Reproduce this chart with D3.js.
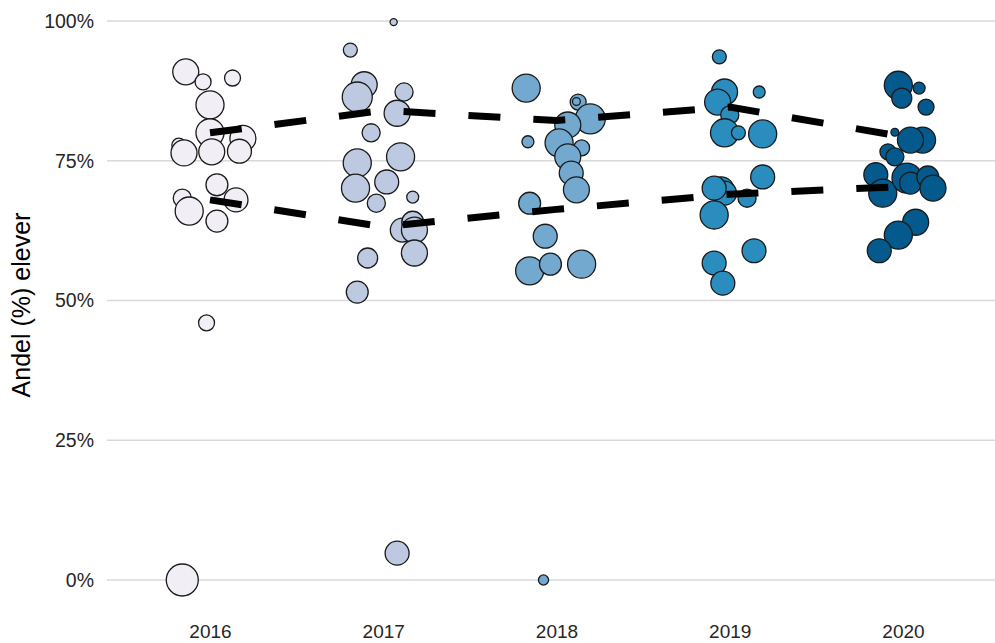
<!DOCTYPE html>
<html>
<head>
<meta charset="utf-8">
<script src="https://cdn.jsdelivr.net/npm/d3@7"></script>
<style>
  body { margin: 0; background: #fff; }
  text { font-family: "Liberation Sans", Arial, sans-serif; }
</style>
</head>
<body>
<script>
// years on the x axis
var years = ["2016", "2017", "2018", "2019", "2020"];
var fills = ["#f1eef6", "#bdc9e1", "#74a9cf", "#2b8cbe", "#045a8d"];
var yTicks = [0, 0.25, 0.5, 0.75, 1];

// share (%) per school, one array per year
var share2016 = [90.9, 89.1, 89.8, 85.0, 80.0, 80.0, 79.0, 76.7, 77.8, 76.4, 76.6, 70.7, 68.3, 68.0, 66.0, 64.2, 46.0, 0];
var share2017 = [94.8, 99.8, 88.6, 86.4, 87.3, 83.5, 80.0, 74.6, 75.7, 70.1, 71.2, 67.4, 68.5, 62.6, 64.0, 62.6, 58.5, 57.6, 51.5, 4.8];
var share2018 = [88.0, 85.5, 85.6, 82.5, 81.4, 78.4, 78.2, 77.3, 75.7, 72.8, 69.8, 67.4, 61.5, 55.3, 56.5, 56.5, 0];
var share2019 = [93.6, 87.3, 85.5, 87.3, 83.2, 80.0, 80.0, 79.8, 72.1, 69.8, 69.2, 68.3, 65.3, 70.1, 58.9, 56.7, 53.1];
var share2020 = [88.5, 88.0, 86.2, 84.6, 80.1, 78.7, 78.7, 76.6, 75.7, 72.5, 69.2, 71.9, 71.0, 72.1, 70.1, 64.0, 61.7, 58.9];

// number of pupils per school (point size)
var n2016 = [66, 25, 25, 77, 77, 10, 66, 56, 19, 66, 66, 47, 32, 56, 77, 47, 25, 100];
var n2017 = [19, 5, 66, 88, 32, 66, 32, 77, 77, 77, 56, 32, 14, 56, 47, 66, 66, 39, 47, 56];
var n2018 = [77, 25, 6, 88, 66, 14, 77, 25, 66, 56, 66, 47, 56, 77, 47, 77, 10];
var n2019 = [19, 66, 66, 14, 32, 77, 19, 77, 56, 66, 56, 32, 77, 56, 56, 56, 56];
var n2020 = [77, 14, 39, 25, 6, 66, 66, 25, 32, 56, 77, 88, 47, 47, 66, 66, 77, 56];

// horizontal jitter (fraction of the step between years)
var jit2016 = [-0.14, -0.04, 0.13, 0.00, 0.00, 0.18, 0.19, 0.17, -0.18, -0.15, 0.01, 0.04, -0.16, 0.15, -0.12, 0.04, -0.02, -0.16];
var jit2017 = [-0.19, 0.06, -0.11, -0.15, 0.12, 0.08, -0.07, -0.15, 0.10, -0.16, 0.02, -0.04, 0.17, 0.11, 0.17, 0.18, 0.18, -0.09, -0.15, 0.08];
var jit2018 = [-0.175, 0.125, 0.115, 0.195, 0.065, -0.165, 0.015, 0.145, 0.065, 0.085, 0.115, -0.155, -0.065, -0.155, -0.035, 0.145, -0.075];
var jit2019 = [-0.06, -0.03, -0.07, 0.17, 0.00, -0.03, 0.05, 0.19, 0.19, -0.05, -0.03, 0.10, -0.09, -0.09, 0.14, -0.09, -0.04];
var jit2020 = [-0.027, 0.093, -0.007, 0.133, -0.047, 0.113, 0.043, -0.087, -0.047, -0.157, -0.117, 0.023, 0.043, 0.143, 0.173, 0.073, -0.027, -0.137];

// the two dashed trend lines
var upperLine = [80.0, 84.0, 82.2, 84.6, 79.3];
var lowerLine = [68.0, 63.2, 66.3, 69.0, 70.4];

var shares = [share2016, share2017, share2018, share2019, share2020];
var sizes = [n2016, n2017, n2018, n2019, n2020];
var jits = [jit2016, jit2017, jit2018, jit2019, jit2020];

var W = 995, H = 643;
var plot = {left: 107, right: 995, top: 21, bottom: 580};

var svg = d3.select("body").append("svg")
    .attr("width", W)
    .attr("height", H);

var x = d3.scalePoint().domain(years).range([210, 903]);
var y = d3.scaleLinear().domain([0, 1]).range([plot.bottom, plot.top]);
var r = d3.scaleSqrt().domain([0, 100]).range([0, 16]);
var color = d3.scaleOrdinal().domain(years).range(fills);

// grid
svg.append("g").selectAll("line")
    .data(yTicks)
    .enter().append("line")
    .attr("x1", plot.left).attr("x2", plot.right)
    .attr("y1", function(d) { return y(d); })
    .attr("y2", function(d) { return y(d); })
    .style("stroke", "#d9d9d9")
    .style("stroke-width", 1.4);

// y axis labels
var yAxis = svg.append("g")
    .attr("transform", "translate(" + (plot.left - 6) + ",0)")
    .call(d3.axisLeft(y).tickValues(yTicks).tickFormat(d3.format(".0%")).tickSize(0).tickPadding(7));
yAxis.select(".domain").remove();
yAxis.selectAll("text").style("font-size", "19.5px").style("fill", "#262626");

// x axis labels
var xAxis = svg.append("g")
    .attr("transform", "translate(0,617.5)")
    .call(d3.axisBottom(x).tickSize(0).tickPadding(7));
xAxis.select(".domain").remove();
xAxis.selectAll("text").style("font-size", "19px").style("fill", "#262626");

// y title
svg.append("text")
    .attr("transform", "translate(30,305) rotate(-90)")
    .attr("text-anchor", "middle")
    .style("font-size", "25px")
    .style("fill", "#000")
    .text("Andel (%) elever");

// points
var pts = [];
years.forEach(function(yr, i) {
  shares[i].forEach(function(v, j) {
    pts.push({year: yr, value: v / 100, n: sizes[i][j], jit: jits[i][j]});
  });
});

svg.append("g").selectAll("circle")
    .data(pts)
    .enter().append("circle")
    .attr("cx", function(d) { return x(d.year) + d.jit * x.step(); })
    .attr("cy", function(d) { return y(d.value); })
    .attr("r", function(d) { return r(d.n); })
    .style("fill", function(d) { return color(d.year); })
    .style("stroke", "#1a1a1a")
    .style("stroke-width", 1.3);

// dashed lines
var line = d3.line()
    .x(function(d, i) { return x(years[i]); })
    .y(function(d) { return y(d / 100); });

[upperLine, lowerLine].forEach(function(l) {
  svg.append("path")
      .datum(l)
      .attr("d", line)
      .style("fill", "none")
      .style("stroke", "#000")
      .style("stroke-width", 7)
      .style("stroke-dasharray", "32,33");
});
</script>
</body>
</html>
